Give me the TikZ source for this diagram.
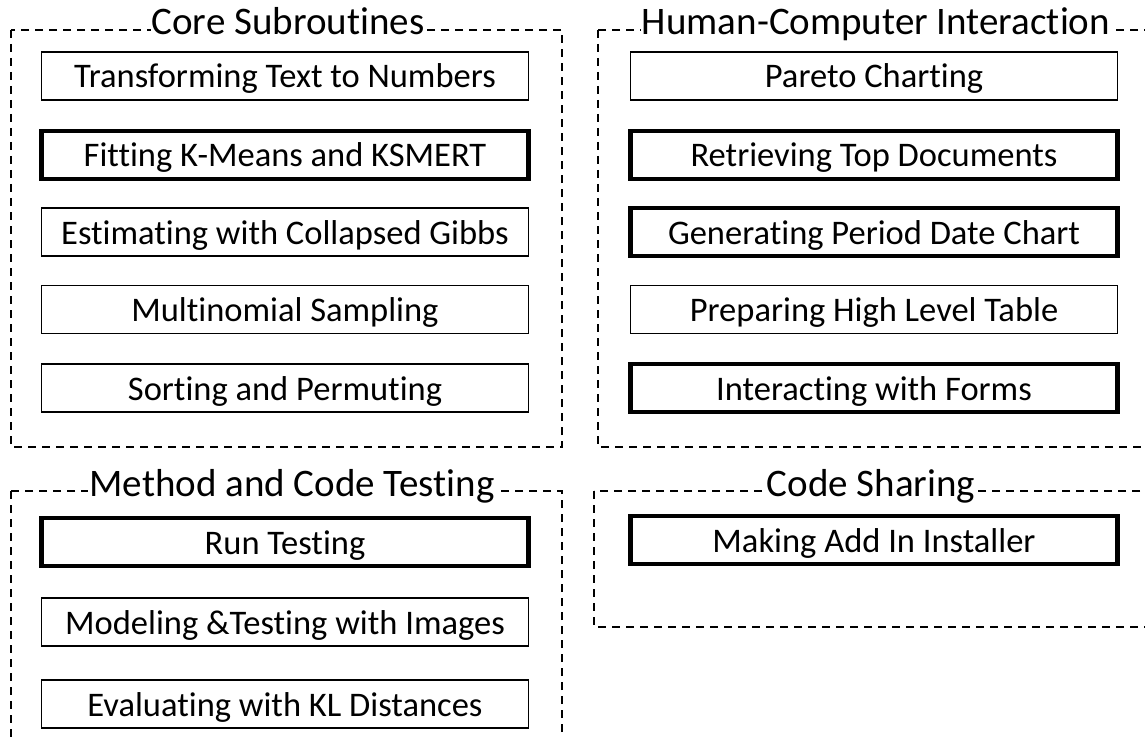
\documentclass[tikz,border=0pt]{standalone}
\usepackage{fontspec}
\setmainfont{Carlito}[RawFeature={-liga;-clig;-calt;-dlig}]
\usetikzlibrary{positioning}

\tikzset{
  frame/.style={draw, line width=1.5pt, dash pattern=on 8pt off 6pt},
  grouptitle/.style={fill=white, inner sep=1pt, anchor=base, font=\fontsize{39}{44}\selectfont},
  taskbox/.style={draw, line width=1.4pt, minimum width=487pt, minimum height=48pt,
    inner sep=0pt, text height=31pt, text depth=7pt, font=\fontsize{34.5}{38}\selectfont},
  keybox/.style={taskbox, line width=4.5pt},
}

\begin{document}
\begin{tikzpicture}[x=1pt,y=-1pt]
\useasboundingbox (0,0) rectangle (1145,738);
\clip (0,0) rectangle (1145,738);
% group frames
\draw [frame] (11,30) rectangle (562,447);
\draw [frame] (598,30) rectangle (1165,447);
\draw [frame] (11,491) rectangle (562,770);
\draw [frame] (594,491) rectangle (1165,627);
\node [grouptitle] (core) at (288,35) {Core Subroutines};
\node [grouptitle] (hci) at (876,35) {Human-Computer Interaction};
\node [grouptitle] (test) at (292,496) {Method and Code Testing};
\node [grouptitle] (share) at (871,496) {Code Sharing};
% core subroutines
\node [taskbox] (text2num) at (285,76) {Transforming Text to Numbers};
\node [keybox] (kmeans) at (285,155) {Fitting K-Means and KSMERT};
\node [taskbox] (gibbs) at (285,232) {Estimating with Collapsed Gibbs};
\node [taskbox] (multinom) at (285,309.5) {Multinomial Sampling};
\node [taskbox] (sorting) at (285,388) {Sorting and Permuting};
% human-computer interaction
\node [taskbox] (pareto) at (874,76) {Pareto Charting};
\node [keybox] (topdocs) at (874,155) {Retrieving Top Documents};
\node [keybox] (periodchart) at (874,232) {Generating Period Date Chart};
\node [taskbox] (hltable) at (874,309.5) {Preparing High Level Table};
\node [keybox] (forms) at (874,388) {Interacting with Forms};
% method and code testing
\node [keybox] (runtest) at (285,542) {Run Testing};
\node [taskbox] (images) at (285,622) {Modeling \&Testing with Images};
\node [taskbox] (kldist) at (285,704) {Evaluating with KL Distances};
% code sharing
\node [keybox] (addin) at (874,540) {Making Add In Installer};
\end{tikzpicture}
\end{document}
